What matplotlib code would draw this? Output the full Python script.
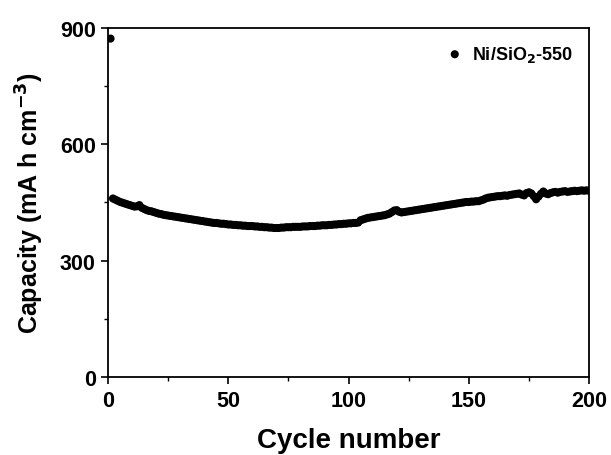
import numpy as np
import matplotlib.pyplot as plt
from matplotlib.ticker import MultipleLocator

plt.rcParams['font.family'] = ['Liberation Sans', 'DejaVu Sans']
plt.rcParams['font.weight'] = 'bold'
plt.rcParams['mathtext.default'] = 'bf'

# Capacidad por ciclo, ciclos 1..200
capacity = [
    872, 460, 457, 454, 451, 449, 447, 445, 443, 441,
    439, 440, 443, 436, 433, 430, 428, 427, 425, 423,
    421, 420, 418, 417, 416, 415, 414, 413, 412, 411,
    410, 409, 408, 407, 406, 405, 404, 403, 402, 401,
    400, 399, 398, 397, 397, 396, 395, 395, 394, 393,
    393, 392, 392, 391, 391, 390, 390, 389, 389, 389,
    388, 388, 387, 387, 386, 386, 385, 385, 384, 384,
    384, 385, 385, 386, 386, 386, 387, 387, 387, 387,
    388, 388, 388, 389, 389, 389, 390, 390, 391, 391,
    391, 392, 392, 393, 393, 394, 394, 395, 395, 396,
    396, 397, 397, 398, 404, 406, 408, 410, 411, 412,
    413, 414, 415, 416, 417, 419, 421, 425, 429, 430,
    426, 424, 425, 426, 427, 428, 429, 430, 431, 432,
    433, 434, 435, 436, 437, 438, 439, 440, 441, 442,
    443, 444, 445, 446, 447, 448, 449, 450, 451, 451,
    452, 452, 453, 453, 455, 457, 460, 462, 463, 464,
    465, 466, 466, 467, 468, 467, 469, 470, 471, 472,
    473, 470, 468, 474, 476, 473, 466, 458, 465, 472,
    478, 473, 471, 474, 476, 477, 475, 477, 478, 479,
    477, 478, 479, 480, 479, 480, 481, 480, 481, 480,
]
cycles = np.arange(1, len(capacity) + 1)

fig = plt.figure(figsize=(6.11, 4.56), dpi=100)
ax = fig.add_axes([0.177, 0.171, 0.787, 0.766])

ax.scatter(cycles, capacity, s=34, color='black', edgecolors='none',
           label='Ni/SiO$_2$-550', zorder=3)

ax.set_xlim(0, 200)
ax.set_ylim(0, 900)
ax.xaxis.set_major_locator(MultipleLocator(50))
ax.xaxis.set_minor_locator(MultipleLocator(25))
ax.yaxis.set_major_locator(MultipleLocator(300))
ax.yaxis.set_minor_locator(MultipleLocator(150))
ax.tick_params(which='major', direction='out', length=5, width=1.2,
               labelsize=15.5, top=False, right=False, pad=4)
ax.tick_params(which='minor', direction='out', length=3, width=1.0,
               top=False, right=False)
for lab in ax.get_xticklabels() + ax.get_yticklabels():
    lab.set_fontweight('bold')
for sp in ax.spines.values():
    sp.set_linewidth(1.3)

ax.set_xlabel('Cycle number', fontsize=20, fontweight='bold', labelpad=12)
ax.set_ylabel('Capacity (mA h cm$^{-3}$)', fontsize=18, fontweight='bold', labelpad=10)

ax.legend(loc='upper right', frameon=False, markerscale=1.0, handlelength=1.5,
          handletextpad=0.2, borderaxespad=0.5, prop={'weight': 'bold', 'size': 13})

fig.savefig('out.png', dpi=100)
